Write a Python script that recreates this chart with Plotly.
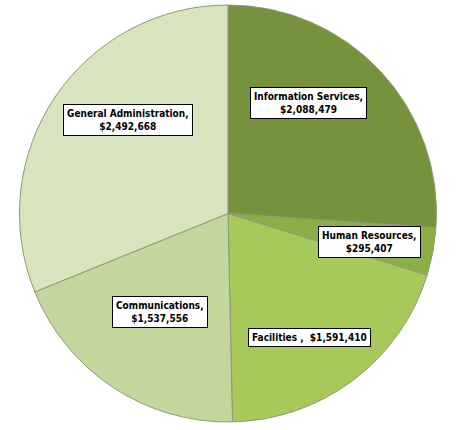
import plotly.graph_objects as go

labels = ['Information Services', 'Human Resources', 'Facilities',
          'Communications', 'General Administration']
values = [2088479, 295407, 1591410, 1537556, 2492668]
colors = ['#76923c', '#8cae47', '#a6c95a', '#c3d69b', '#d7e4bd']
label_text = ['Information Services,<br>$2,088,479',
              'Human Resources,<br>$295,407',
              'Facilities ,  $1,591,410',
              'Communications,<br>$1,537,556',
              'General Administration,<br>$2,492,668']
# label box centres in pixels (from the picture)
label_px = [(308, 103), (369, 242), (309, 337), (160, 312), (128, 120)]

W, H = 457, 430

fig = go.Figure(go.Pie(
    labels=labels,
    values=values,
    sort=False,
    direction='clockwise',
    rotation=0,
    marker=dict(colors=colors, line=dict(color='#8c9a78', width=1)),
    textinfo='none',
    hoverinfo='label+value',
    showlegend=False,
    domain=dict(x=[19 / W, 437 / W], y=[1 - 422 / H, 1 - 5 / H]),
))

for txt, (px_, py_) in zip(label_text, label_px):
    fig.add_annotation(
        x=px_ / W, y=1 - py_ / H, xref='paper', yref='paper',
        xanchor='center', yanchor='middle',
        text='<b>' + txt + '</b>', showarrow=False,
        font=dict(family='Liberation Sans Narrow, DejaVu Sans Condensed, Arial', size=10, color='black'),
        bgcolor='white', bordercolor='black', borderwidth=1, borderpad=3,
    )

fig.update_layout(
    width=W, height=H,
    margin=dict(l=0, r=0, t=0, b=0),
    paper_bgcolor='white',
)

fig.write_html("out.html", config={'displayModeBar': False},
               post_script="document.body.style.margin='0';")
